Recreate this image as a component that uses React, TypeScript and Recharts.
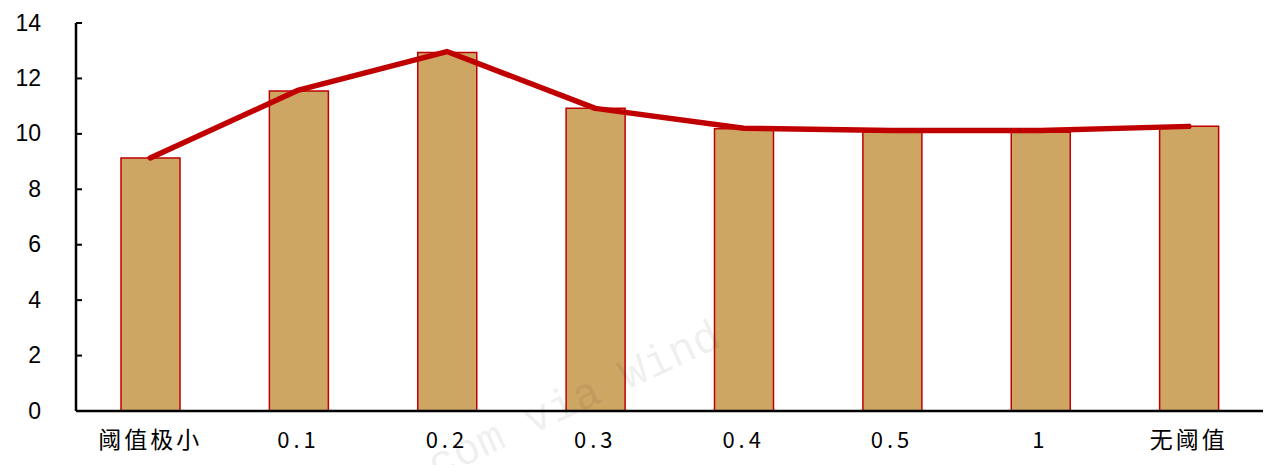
import { ComposedChart, Bar, Line, XAxis, YAxis } from "recharts";

const categories = ["阈值极小", "0.1", "0.2", "0.3", "0.4", "0.5", "1", "无阈值"];
const barValues = [9.13, 11.55, 12.94, 10.92, 10.18, 10.08, 10.06, 10.27];
const lineValues = [9.13, 11.58, 12.97, 10.92, 10.2, 10.12, 10.12, 10.27];
const yTicks = [0, 2, 4, 6, 8, 10, 12, 14];

const data = categories.map((name, i) => ({
  name,
  bar: barValues[i],
  line: lineValues[i],
}));

const YTick = (props: any) => {
  const { x, y, payload } = props;
  return (
    <g>
      <line x1={x} x2={x + 6} y1={y} y2={y} stroke="#000" strokeWidth={2} />
      <text
        x={x - 35}
        y={y}
        dy={7.5}
        textAnchor="end"
        fontFamily="'Liberation Sans', Arial, sans-serif"
        fontSize={23}
        fill="#000"
      >
        {payload.value}
      </text>
    </g>
  );
};

const XTick = (props: any) => {
  const { x, y, payload } = props;
  const isNum = /^[0-9.]+$/.test(payload.value);
  return (
    <text
      x={x}
      y={y + 35}
      textAnchor="middle"
      fontFamily="'Noto Sans CJK SC', sans-serif"
      fontSize={isNum ? 22 : 23}
      letterSpacing={isNum ? 4 : 3}
      fill="#000"
    >
      {payload.value}
    </text>
  );
};

export default function App() {
  return (
    <div
      style={{
        position: "fixed",
        left: 0,
        top: 0,
        width: 1272,
        height: 465,
        background: "#fff",
        overflow: "hidden",
      }}
    >
      <ComposedChart
        width={1272}
        height={465}
        data={data}
        margin={{ top: 23, right: 9, bottom: 13, left: 0 }}
      >
        <XAxis
          dataKey="name"
          axisLine={{ stroke: "#000", strokeWidth: 2.5 }}
          tickLine={false}
          tickSize={0}
          height={41}
          interval={0}
          tick={<XTick />}
        />
        <YAxis
          domain={[0, 14]}
          ticks={yTicks}
          width={76}
          axisLine={{ stroke: "#000", strokeWidth: 2.5 }}
          tickLine={false}
          tickSize={0}
          tickMargin={0}
          tick={<YTick />}
        />
        <Bar
          dataKey="bar"
          barSize={59}
          fill="#CDA664"
          stroke="#C00000"
          strokeWidth={1.5}
          isAnimationActive={false}
        />
        <Line
          dataKey="line"
          type="linear"
          stroke="#C00000"
          strokeWidth={5.5}
          strokeLinecap="round"
          strokeLinejoin="round"
          dot={false}
          activeDot={false}
          isAnimationActive={false}
        />
      </ComposedChart>
      <div
        style={{
          position: "absolute",
          left: 442,
          top: 440,
          height: 52,
          lineHeight: "52px",
          fontFamily: "'Liberation Mono', monospace",
          fontSize: 44,
          color: "rgba(0,0,0,0.08)",
          transform: "rotate(-25deg)",
          transformOrigin: "left bottom",
          whiteSpace: "nowrap",
          pointerEvents: "none",
        }}
      >
        com via Wind
      </div>
    </div>
  );
}
